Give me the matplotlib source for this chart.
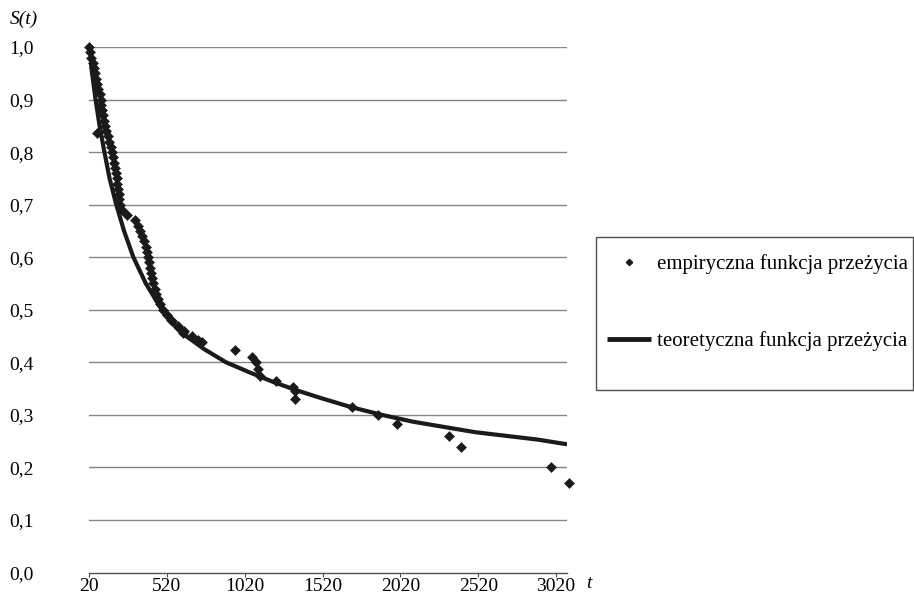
import numpy as np
import matplotlib
matplotlib.use("Agg")
import matplotlib.pyplot as plt
from matplotlib.patches import Rectangle
from matplotlib.lines import Line2D

plt.rcParams['font.family'] = ['Liberation Serif', 'DejaVu Serif']

# --- data ---
emp_t = [20, 27, 35, 43, 52, 60, 67, 74, 81, 88, 94, 100, 106, 112, 118, 124,
         130, 140, 150, 160, 170, 176, 182, 188, 193, 198, 203, 207, 211, 215,
         219, 232, 262, 318, 334, 350, 362, 372, 383, 393, 402, 407, 412, 417,
         422, 430, 442, 452, 462, 478, 497, 520, 548, 551, 590, 594, 626, 630,
         680, 722, 745, 69,
         958, 1065, 1093, 1108, 1118, 1221, 1332, 1343, 1343, 1708, 1874, 2000,
         2334, 2410, 2986, 3100]
emp_s = [1.00, 0.99, 0.98, 0.97, 0.96, 0.95, 0.94, 0.93, 0.92, 0.91, 0.90, 0.89,
         0.88, 0.87, 0.86, 0.85, 0.84, 0.83, 0.82, 0.81, 0.80, 0.79, 0.78, 0.77,
         0.76, 0.75, 0.74, 0.73, 0.72, 0.71, 0.70, 0.69, 0.68, 0.67, 0.66, 0.65,
         0.64, 0.63, 0.62, 0.61, 0.60, 0.59, 0.58, 0.57, 0.56, 0.55, 0.54, 0.53,
         0.52, 0.51, 0.50, 0.49, 0.48, 0.478, 0.47, 0.468, 0.456, 0.46, 0.45,
         0.442, 0.438, 0.837,
         0.4225, 0.411, 0.3997, 0.387, 0.374, 0.365, 0.353, 0.345, 0.330, 0.3146,
         0.300, 0.282, 0.260, 0.238, 0.200, 0.170]

theo_t = [20, 40, 62, 88, 116, 152, 195, 245, 305, 385, 487, 620, 760, 900,
          1050, 1200, 1350, 1520, 1700, 1900, 2100, 2300, 2500, 2700, 2900, 3090]
theo_s = [1.0, 0.95, 0.90, 0.85, 0.805, 0.75, 0.70, 0.65, 0.60, 0.55, 0.50,
          0.455, 0.425, 0.40, 0.381, 0.363, 0.347, 0.331, 0.315, 0.300, 0.287,
          0.277, 0.267, 0.260, 0.253, 0.244]

xtick_vals = [20, 520, 1020, 1520, 2020, 2520, 3020]
ytick_vals = [0.0, 0.1, 0.2, 0.3, 0.4, 0.5, 0.6, 0.7, 0.8, 0.9, 1.0]
ytick_labels = ["0,0", "0,1", "0,2", "0,3", "0,4", "0,5", "0,6", "0,7", "0,8", "0,9", "1,0"]
emp_label = "empiryczna funkcja przeżycia"
theo_label = "teoretyczna funkcja przeżycia"

W, H = 914, 604
fig = plt.figure(figsize=(W / 100, H / 100), dpi=100)
ax = fig.add_axes([89 / W, 1 - 572.5 / H, (567 - 89) / W, (572.5 - 47) / H])

ax.plot(theo_t, theo_s, color='#1a1a1a', lw=3.0, solid_capstyle='butt', zorder=3)
ax.plot(emp_t, emp_s, linestyle='none', marker='D', ms=4.6, color='#1a1a1a',
        mec='#1a1a1a', mew=0.4, clip_on=False, zorder=4)

ax.set_xlim(20, 3090)
ax.set_ylim(0, 1.0)
ax.set_xticks(xtick_vals)
ax.set_xticklabels([str(v) for v in xtick_vals])
ax.set_yticks(ytick_vals)
ax.set_yticklabels(ytick_labels)

for v in ytick_vals[1:]:
    ax.axhline(v, color='#858585', lw=1.0, zorder=1)

for s in ['top', 'right', 'left']:
    ax.spines[s].set_visible(False)
ax.spines['bottom'].set_color('#505050')
ax.spines['bottom'].set_linewidth(1.0)
ax.tick_params(axis='x', direction='out', length=3, width=0.8, color='#505050',
               labelsize=14, pad=1)
ax.tick_params(axis='y', length=0, labelsize=14, pad=40)

fig.text(586 / W, 1 - 583 / H, "t", fontsize=14, style='italic', ha='left', va='center')
fig.text(24 / W, 1 - 19 / H, "S(t)", fontsize=14, style='italic', ha='center', va='center')

# legend frame
fig.patches.append(Rectangle((596 / W, 1 - 390 / H), (913 - 596) / W, (390 - 237) / H,
                             transform=fig.transFigure, fill=False,
                             edgecolor='#505050', lw=1.0))
handles = [Line2D([], [], linestyle='none', marker='D', ms=3.2, color='#1a1a1a'),
           Line2D([], [], color='#1a1a1a', lw=3.5, solid_capstyle='butt')]
leg = fig.legend(handles, [emp_label, theo_label], loc='upper left',
                 bbox_to_anchor=(607 / W, 1 - 254 / H), frameon=False,
                 fontsize=15.0, handlelength=2.1, handletextpad=0.3,
                 labelspacing=2.75, borderpad=0, borderaxespad=0, numpoints=1)

fig.savefig("out.png", dpi=100)
